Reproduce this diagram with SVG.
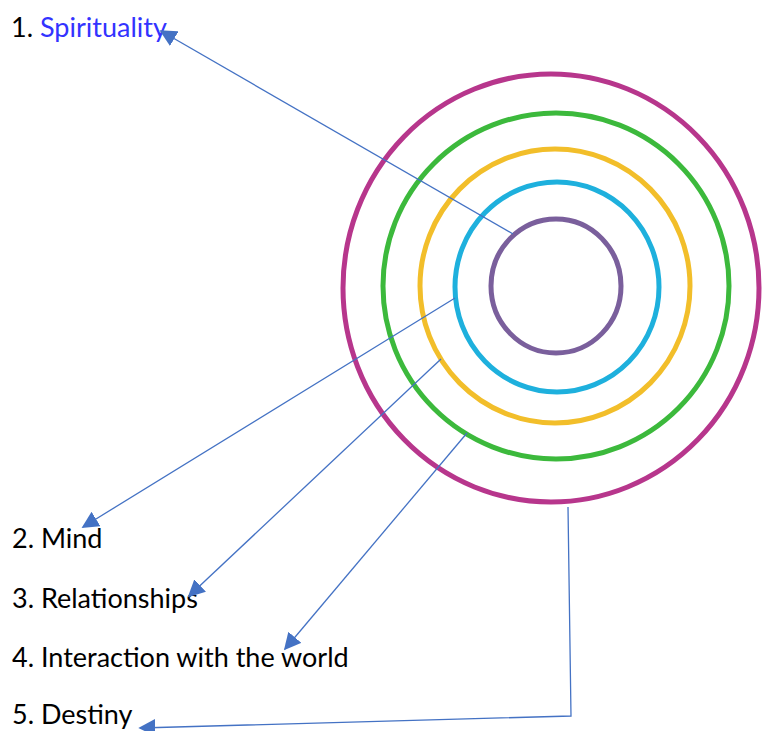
<svg xmlns="http://www.w3.org/2000/svg" width="762" height="731" viewBox="0 0 762 731">
<style>
.ring{fill:none;stroke-width:5}
.lbl{font-family:Lato,"Liberation Sans",sans-serif;font-size:27px;fill:#000}
.conn{fill:none;stroke:#4472c4;stroke-width:1.3}
</style>
<defs>
<marker id="ah" viewBox="0 0 10 10" refX="9" refY="5" markerWidth="17" markerHeight="17" markerUnits="userSpaceOnUse" orient="auto">
<path d="M0,0 L10,5 L0,10 Z" fill="#4472c4"/>
</marker>
</defs>
<rect width="762" height="731" fill="#fff"/>
<g id="rings">
<ellipse id="ring-destiny" class="ring" cx="551" cy="288" rx="208" ry="214" stroke="#b7368c"/>
<ellipse id="ring-world" class="ring" cx="556" cy="286" rx="173" ry="173" stroke="#3cb93c"/>
<ellipse id="ring-relationships" class="ring" cx="555" cy="286" rx="135" ry="137" stroke="#f2be2a"/>
<ellipse id="ring-mind" class="ring" cx="557" cy="287" rx="102" ry="105" stroke="#1eb0dd"/>
<ellipse id="ring-spirituality" class="ring" cx="556" cy="286" rx="65" ry="67" stroke="#7a5f9c" stroke-width="4.5"/>
</g>
<g id="label-spirituality"><text class="lbl" x="11" y="37">1. <tspan fill="#3333ff">Spirituality</tspan></text></g>
<g id="label-mind"><text class="lbl" x="12" y="548">2. Mind</text></g>
<g id="label-relationships"><text class="lbl" x="12" y="608">3. Relationships</text></g>
<g id="label-world"><text class="lbl" x="12" y="667">4. Interaction with the world</text></g>
<g id="label-destiny"><text class="lbl" x="12" y="724">5. Destiny</text></g>
<g id="connectors">
<line class="conn" x1="513" y1="234" x2="161" y2="31" marker-end="url(#ah)"/>
<line class="conn" x1="455" y1="298" x2="83" y2="527" marker-end="url(#ah)"/>
<line class="conn" x1="441" y1="359" x2="189" y2="596" marker-end="url(#ah)"/>
<line class="conn" x1="467" y1="433" x2="285" y2="649" marker-end="url(#ah)"/>
<polyline class="conn" points="568,507 571,716 140,728" marker-end="url(#ah)"/>
</g>
</svg>
